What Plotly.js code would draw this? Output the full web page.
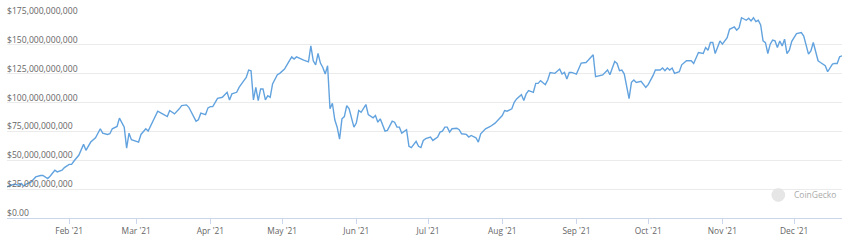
<!DOCTYPE html>
<html>
<head>
<meta charset="utf-8">
<script src="https://cdn.plot.ly/plotly-3.0.1.min.js"></script>
<style>
html,body{margin:0;padding:0;background:#fff;}
#chart{width:848px;height:242px;}
</style>
</head>
<body>
<div id="chart"></div>
<script>
// Market cap (USD billions), 2021
const dates = [
"2021-01-06","2021-01-09","2021-01-11","2021-01-12","2021-01-13","2021-01-14","2021-01-16","2021-01-18","2021-01-20","2021-01-21",
"2021-01-23","2021-01-24","2021-01-26","2021-01-27","2021-01-29","2021-01-30","2021-02-01","2021-02-02","2021-02-03","2021-02-05",
"2021-02-07","2021-02-08","2021-02-10","2021-02-12","2021-02-14","2021-02-15","2021-02-17","2021-02-18","2021-02-19","2021-02-21",
"2021-02-22","2021-02-24","2021-02-25","2021-02-26","2021-02-27","2021-02-28","2021-03-02","2021-03-03","2021-03-05","2021-03-06",
"2021-03-08","2021-03-10","2021-03-12","2021-03-14","2021-03-15","2021-03-17","2021-03-19","2021-03-20","2021-03-22","2021-03-23",
"2021-03-26","2021-03-27","2021-03-28","2021-03-30","2021-03-31","2021-04-01","2021-04-02","2021-04-04","2021-04-06","2021-04-08",
"2021-04-09","2021-04-10","2021-04-12","2021-04-13","2021-04-15","2021-04-16","2021-04-17","2021-04-18","2021-04-19","2021-04-20",
"2021-04-21","2021-04-22","2021-04-23","2021-04-24","2021-04-25","2021-04-26","2021-04-27","2021-04-29","2021-04-30","2021-05-02",
"2021-05-04","2021-05-05","2021-05-06","2021-05-07","2021-05-10","2021-05-12","2021-05-13","2021-05-14","2021-05-15","2021-05-16",
"2021-05-17","2021-05-18","2021-05-19","2021-05-20","2021-05-21","2021-05-22","2021-05-23","2021-05-24","2021-05-25","2021-05-26",
"2021-05-27","2021-05-28","2021-05-29","2021-05-31","2021-06-01","2021-06-02","2021-06-03","2021-06-05","2021-06-06","2021-06-08",
"2021-06-09","2021-06-10","2021-06-11","2021-06-13","2021-06-14","2021-06-16","2021-06-17","2021-06-18","2021-06-19","2021-06-20",
"2021-06-22","2021-06-23","2021-06-24","2021-06-26","2021-06-27","2021-06-28","2021-06-29","2021-06-30","2021-07-02","2021-07-03",
"2021-07-05","2021-07-06","2021-07-07","2021-07-08","2021-07-09","2021-07-10","2021-07-11","2021-07-13","2021-07-14","2021-07-15",
"2021-07-17","2021-07-18","2021-07-19","2021-07-21","2021-07-22","2021-07-23","2021-07-25","2021-07-27","2021-07-29","2021-07-30",
"2021-08-01","2021-08-02","2021-08-03","2021-08-05","2021-08-06","2021-08-07","2021-08-09","2021-08-10","2021-08-11","2021-08-12",
"2021-08-14","2021-08-15","2021-08-16","2021-08-17","2021-08-19","2021-08-20","2021-08-21","2021-08-23","2021-08-25","2021-08-26",
"2021-08-27","2021-08-28","2021-08-29","2021-08-30","2021-09-01","2021-09-03","2021-09-05","2021-09-06","2021-09-08","2021-09-09",
"2021-09-11","2021-09-12","2021-09-14","2021-09-15","2021-09-17","2021-09-18","2021-09-19","2021-09-20","2021-09-21","2021-09-23",
"2021-09-24","2021-09-25","2021-09-26","2021-09-28","2021-09-30","2021-10-01","2021-10-03","2021-10-04","2021-10-06","2021-10-07",
"2021-10-08","2021-10-09","2021-10-10","2021-10-11","2021-10-12","2021-10-14","2021-10-15","2021-10-17","2021-10-19","2021-10-20",
"2021-10-22","2021-10-24","2021-10-25","2021-10-26","2021-10-27","2021-10-28","2021-10-29","2021-10-31","2021-11-01","2021-11-03",
"2021-11-04","2021-11-06","2021-11-07","2021-11-08","2021-11-09","2021-11-11","2021-11-12","2021-11-13","2021-11-14","2021-11-15",
"2021-11-16","2021-11-17","2021-11-18","2021-11-19","2021-11-20","2021-11-21","2021-11-22","2021-11-23","2021-11-24","2021-11-25",
"2021-11-26","2021-11-27","2021-11-28","2021-11-29","2021-11-30","2021-12-02","2021-12-04","2021-12-05","2021-12-07","2021-12-08",
"2021-12-09","2021-12-11","2021-12-12","2021-12-14","2021-12-15","2021-12-17","2021-12-18","2021-12-19","2021-12-20","2021-12-21"
];
const marketCapB = [
27.0,29.3,28.4,29.9,27.6,29.3,31.0,35.6,36.8,36.8,
34.2,36.2,41.4,39.9,41.4,43.7,46.5,46.5,49.4,54.3,
63.8,58.6,65.8,69.5,77.3,73.5,72.4,73.0,77.3,79.3,
86.5,78.7,60.6,73.5,67.8,67.2,65.8,72.4,77.3,75.3,
84.5,92.5,90.2,87.9,93.1,90.2,94.6,97.4,98.0,95.9,
83.9,85.1,90.8,89.6,95.4,96.5,96.5,103.7,104.6,108.9,
102.3,107.5,108.9,113.2,119.0,121.8,128.2,127.6,102.3,113.2,
101.7,111.8,111.8,102.3,106.0,104.6,116.1,124.1,125.3,129.0,
136.2,139.6,137.7,139.6,136.8,135.3,149.1,136.2,132.7,142.5,
134.2,130.4,124.7,131.9,94.6,99.4,85.1,78.7,68.4,85.9,
87.9,97.4,94.6,78.7,82.2,93.1,91.6,98.3,89.6,86.8,
88.8,83.0,85.9,75.3,75.9,83.9,83.0,78.7,78.7,73.5,
76.5,62.1,60.9,66.4,62.1,61.0,67.2,68.7,70.1,67.2,
70.1,74.4,75.3,78.7,78.7,74.4,77.3,77.8,76.5,73.0,
72.4,70.1,71.5,69.5,65.8,73.0,77.3,79.3,82.2,84.5,
88.8,93.1,92.5,94.6,100.3,103.2,106.9,101.7,107.5,110.3,
108.9,116.6,116.6,119.0,115.5,119.6,126.1,125.3,129.0,124.7,
126.1,120.4,126.1,126.1,124.7,134.2,134.7,136.8,141.4,122.4,
123.3,123.9,128.2,124.1,135.6,133.9,127.6,128.2,124.7,103.5,
117.5,119.6,117.5,118.4,113.2,115.5,123.3,128.2,128.2,129.9,
127.6,129.9,128.2,129.9,125.3,126.7,132.7,136.2,136.2,133.9,
143.4,142.5,147.7,145.4,152.0,152.0,142.5,153.4,150.6,156.3,
163.5,165.5,162.7,164.9,173.5,171.3,173.0,170.7,173.5,170.1,
171.3,167.2,153.4,152.0,142.5,150.6,154.1,153.4,147.7,153.4,
149.1,154.9,142.5,145.4,153.0,159.7,160.6,157.7,142.0,144.8,
152.0,136.2,134.7,131.9,126.7,133.4,133.9,133.9,139.6,140.5
];
const yTickVals = [0, 25e9, 50e9, 75e9, 100e9, 125e9, 150e9, 175e9];
const yTickText = ["$0.00","$25,000,000,000","$50,000,000,000","$75,000,000,000","$100,000,000,000","$125,000,000,000","$150,000,000,000","$175,000,000,000"];

const trace = {
  x: dates,
  y: marketCapB.map(v => v * 1e9),
  type: 'scatter',
  mode: 'lines',
  line: {color: '#62a3df', width: 1.4},
  hoverinfo: 'skip'
};

// y tick labels placed on the y scale, left-aligned inside the plot, just above each gridline
const yLabelAnnotations = yTickVals.map((v, i) => ({
  text: yTickText[i], xref: 'paper', yref: 'y', x: 0, y: v,
  xanchor: 'left', yanchor: 'bottom', showarrow: false,
  xshift: -1, yshift: -2, borderpad: 0,
  font: {size: 8.6, color: '#666666'}
}));

const layout = {
  width: 848, height: 242,
  margin: {l: 7, r: 6, t: 16, b: 24},
  paper_bgcolor: '#ffffff', plot_bgcolor: '#ffffff',
  showlegend: false,
  font: {family: '"Open Sans", "DejaVu Sans", sans-serif', color: '#666666', size: 8.6},
  xaxis: {
    type: 'date',
    range: [dates[0], dates[dates.length - 1]],
    tickformat: "%b '%y",
    dtick: 'M1',
    tick0: '2021-01-01',
    showgrid: false,
    zeroline: false,
    showline: true,
    linecolor: '#ccd6eb',
    linewidth: 1,
    ticks: 'outside',
    ticklen: 5,
    tickcolor: '#ccd6eb',
    tickfont: {size: 8.4, color: '#666666'},
    fixedrange: true
  },
  yaxis: {
    range: [0, 175e9],
    tickvals: yTickVals,
    showticklabels: false,
    ticks: '',
    showgrid: true,
    gridcolor: '#ebebeb',
    gridwidth: 1,
    zeroline: false,
    showline: false,
    fixedrange: true
  },
  shapes: [
    {type: 'circle', xref: 'paper', yref: 'paper', xsizemode: 'pixel', ysizemode: 'pixel',
     xanchor: 0.9237, yanchor: 0.114, x0: -6.5, x1: 6.5, y0: -6.5, y1: 6.5,
     fillcolor: '#e6e6e6', line: {color: '#dcdcdc', width: 0.5}, layer: 'above'}
  ],
  annotations: yLabelAnnotations.concat([
    {text: 'CoinGecko', xref: 'paper', yref: 'paper', x: 0.9398, y: 0.114,
     xanchor: 'left', yanchor: 'middle', showarrow: false,
     font: {size: 8.5, color: '#aaaaaa', family: '"Open Sans", sans-serif'}}
  ])
};

Plotly.newPlot('chart', [trace], layout, {displayModeBar: false, staticPlot: true});
</script>
</body>
</html>
